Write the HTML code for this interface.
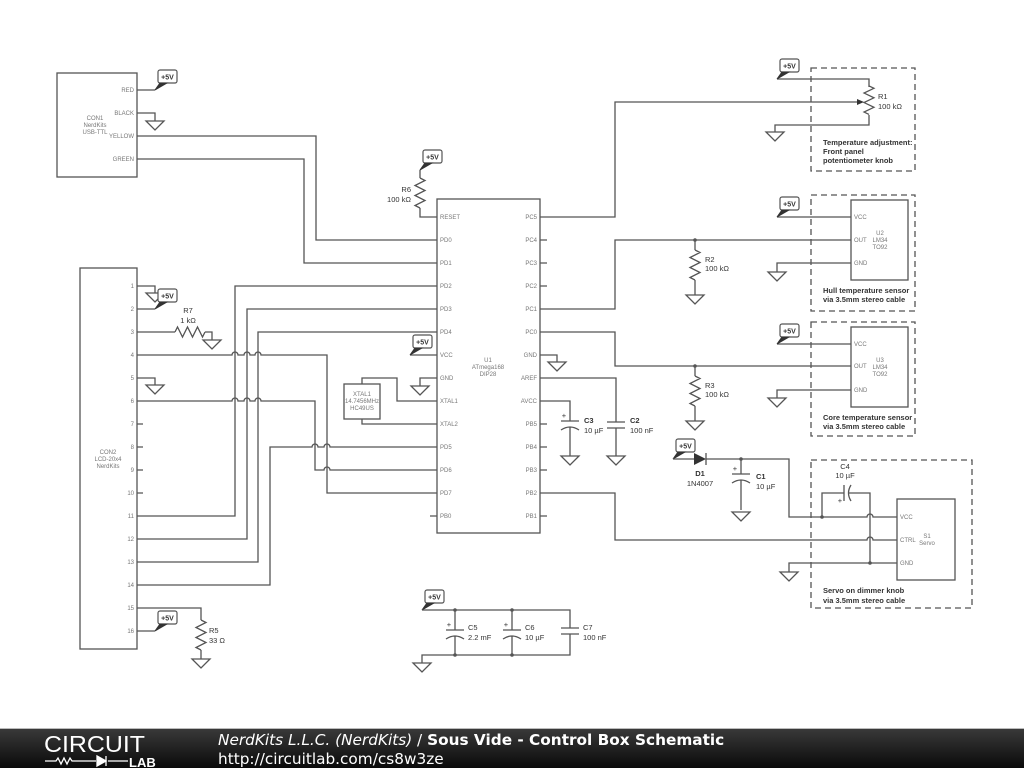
<!DOCTYPE html>
<html><head><meta charset="utf-8"><style>
html,body{margin:0;padding:0;background:#fff;width:1024px;height:768px;overflow:hidden}
svg{display:block}
.w{fill:none;stroke:#555;stroke-width:1.3}
.b{fill:#fff;stroke:#555;stroke-width:1.3}
.d{fill:none;stroke:#555;stroke-width:1.3;stroke-dasharray:6,4}
.p{font-family:"Liberation Sans",sans-serif;font-size:6px;fill:#777}
.l{font-family:"Liberation Sans",sans-serif;font-size:7.5px;fill:#333}
.t{font-family:"Liberation Sans",sans-serif;font-size:7.5px;fill:#333;font-weight:bold}
.f{font-family:"Liberation Sans",sans-serif;font-size:7px;fill:#333;font-weight:bold}
</style></head><body>
<svg width="1024" height="768" viewBox="0 0 1024 768" xmlns="http://www.w3.org/2000/svg">
<defs>
<path id="g" d="M-9,0 L9,0 L0,9 Z" fill="#fff" stroke="#555" stroke-width="1.3"/>
<g id="v"><rect x="3" y="-20" width="19" height="13" rx="2" fill="#fff" stroke="#555" stroke-width="1.2"/><path d="M0,0 L5,-7 L12,-7 Z" fill="#333" stroke="#333" stroke-width="1"/><text x="12.5" y="-10.5" text-anchor="middle" class="f">+5V</text></g>
<path id="zv" d="M0,0 l5,2.5 l-10,5 l10,5 l-10,5 l10,5 l-10,5 l5,2.5" fill="none" stroke="#555" stroke-width="1.3"/>
<path id="zh" d="M0,0 l2.5,-5 l5,10 l5,-10 l5,10 l5,-10 l5,10 l2.5,-5" fill="none" stroke="#555" stroke-width="1.3"/>
</defs>

<!-- CON1 -->
<rect x="57" y="73" width="80" height="104" class="b"/>
<text x="95" y="120" class="p" text-anchor="middle">CON1</text>
<text x="95" y="127" class="p" text-anchor="middle">NerdKits</text>
<text x="95" y="134" class="p" text-anchor="middle">USB-TTL</text>
<text x="134" y="92" class="p" text-anchor="end">RED</text>
<text x="134" y="115" class="p" text-anchor="end">BLACK</text>
<text x="134" y="138" class="p" text-anchor="end">YELLOW</text>
<text x="134" y="161" class="p" text-anchor="end">GREEN</text>
<path class="w" d="M137,90H155 M137,113H155V121 M137,136H316V240H437 M137,159H304V263H437"/>
<use href="#v" x="155" y="90"/>
<use href="#g" x="155" y="121"/>

<!-- CON2 -->
<rect x="80" y="268" width="57" height="381" class="b"/>
<text x="108" y="454" class="p" text-anchor="middle">CON2</text>
<text x="108" y="461" class="p" text-anchor="middle">LCD-20x4</text>
<text x="108" y="468" class="p" text-anchor="middle">NerdKits</text>
<g class="p" text-anchor="end">
<text x="134" y="288">1</text><text x="134" y="311">2</text><text x="134" y="334">3</text><text x="134" y="357">4</text>
<text x="134" y="380">5</text><text x="134" y="403">6</text><text x="134" y="426">7</text><text x="134" y="449">8</text>
<text x="134" y="472">9</text><text x="134" y="495">10</text><text x="134" y="518">11</text><text x="134" y="541">12</text>
<text x="134" y="564">13</text><text x="134" y="587">14</text><text x="134" y="610">15</text><text x="134" y="633">16</text>
</g>
<path class="w" d="M137,286H155V293 M137,309H155 M137,332H175 M205,332H212V340 M137,378H155V385 M137,424H143 M137,447H143 M137,470H143 M137,493H143"/>
<use href="#g" x="155" y="293"/>
<use href="#g" x="155" y="385"/>
<use href="#v" x="155" y="309"/>
<use href="#zh" x="175" y="332"/>
<use href="#g" x="212" y="340"/>
<text x="188" y="313" class="l" text-anchor="middle">R7</text>
<text x="188" y="323" class="l" text-anchor="middle">1 kΩ</text>
<path class="w" d="M137,355H232 a3,3 0 0 1 6,0 H244 a3,3 0 0 1 6,0 H255 a3,3 0 0 1 6,0 H327V493H437"/>
<path class="w" d="M137,401H232 a3,3 0 0 1 6,0 H244 a3,3 0 0 1 6,0 H255 a3,3 0 0 1 6,0 H315V470H324 a3,3 0 0 1 6,0 H437"/>
<path class="w" d="M137,516H235V286H437 M137,539H247V309H437 M137,562H258V332H437 M137,585H270V447H312 a3,3 0 0 1 6,0 H324 a3,3 0 0 1 6,0 H437"/>
<path class="w" d="M137,608H201V620 M201,650V659 M137,631H155"/>
<use href="#zv" x="201" y="620"/>
<use href="#g" x="201" y="659"/>
<use href="#v" x="155" y="631"/>
<text x="209" y="633" class="l">R5</text>
<text x="209" y="643" class="l">33 Ω</text>

<!-- U1 -->
<rect x="437" y="199" width="103" height="334" class="b"/>
<text x="488" y="362" class="p" text-anchor="middle">U1</text>
<text x="488" y="369" class="p" text-anchor="middle">ATmega168</text>
<text x="488" y="376" class="p" text-anchor="middle">DIP28</text>
<g class="p">
<text x="440" y="219">RESET</text><text x="440" y="242">PD0</text><text x="440" y="265">PD1</text><text x="440" y="288">PD2</text>
<text x="440" y="311">PD3</text><text x="440" y="334">PD4</text><text x="440" y="357">VCC</text><text x="440" y="380">GND</text>
<text x="440" y="403">XTAL1</text><text x="440" y="426">XTAL2</text><text x="440" y="449">PD5</text><text x="440" y="472">PD6</text>
<text x="440" y="495">PD7</text><text x="440" y="518">PB0</text>
</g>
<g class="p" text-anchor="end">
<text x="537" y="219">PC5</text><text x="537" y="242">PC4</text><text x="537" y="265">PC3</text><text x="537" y="288">PC2</text>
<text x="537" y="311">PC1</text><text x="537" y="334">PC0</text><text x="537" y="357">GND</text><text x="537" y="380">AREF</text>
<text x="537" y="403">AVCC</text><text x="537" y="426">PB5</text><text x="537" y="449">PB4</text><text x="537" y="472">PB3</text>
<text x="537" y="495">PB2</text><text x="537" y="518">PB1</text>
</g>
<path class="w" d="M430,516H437 M540,240H547 M540,263H547 M540,286H547 M540,424H547 M540,447H547 M540,470H547 M540,516H547"/>
<path class="w" d="M420,170V178 M420,208V217H437"/>
<use href="#zv" x="420" y="178"/>
<use href="#v" x="420" y="170"/>
<text x="411" y="192" class="l" text-anchor="end">R6</text>
<text x="411" y="202" class="l" text-anchor="end">100 kΩ</text>
<path class="w" d="M410,355H437 M437,378H420V386"/>
<use href="#v" x="410" y="355"/>
<use href="#g" x="420" y="386"/>
<rect x="344" y="384" width="36" height="35" class="b"/>
<text x="362" y="396" class="p" text-anchor="middle">XTAL1</text>
<text x="362" y="403" class="p" text-anchor="middle">14.7456MHz</text>
<text x="362" y="410" class="p" text-anchor="middle">HC49US</text>
<path class="w" d="M362,384V378H397V401H437 M362,419V424H437"/>

<path class="w" d="M540,355H557V362"/>
<use href="#g" x="557" y="362"/>
<path class="w" d="M540,378H616V422 M607,422H625 M607,428H625 M616,428V456"/>
<use href="#g" x="616" y="456"/>
<path class="w" d="M540,401H570V421 M561,421H579 M561,430Q570,424 579,430 M570,427V456"/>
<use href="#g" x="570" y="456"/>
<text x="564" y="418" class="l" text-anchor="middle">+</text>
<text x="584" y="423" class="t">C3</text><text x="584" y="433" class="l">10 µF</text>
<text x="630" y="423" class="t">C2</text><text x="630" y="433" class="l">100 nF</text>

<!-- R1 -->
<path class="w" d="M540,217H615V102H862 M777,79H869V87 M869,115V125H775V132"/>
<path d="M864,102 L857,99 L857,105 Z" fill="#333"/>
<use href="#zv" x="869" y="87" transform="translate(0,-1) scale(1,0.95) translate(0,4.5)"/>
<use href="#v" x="777" y="79"/>
<use href="#g" x="775" y="132"/>
<text x="878" y="99" class="l">R1</text><text x="878" y="109" class="l">100 kΩ</text>
<rect x="811" y="68" width="104" height="103" class="d"/>
<text x="823" y="145" class="t">Temperature adjustment:</text>
<text x="823" y="154" class="t">Front panel</text>
<text x="823" y="163" class="t">potentiometer knob</text>

<!-- U2 -->
<path class="w" d="M540,309H615V240H851 M695,240V250 M695,280V295 M777,217H851 M851,263H777V272"/>
<circle cx="695" cy="240" r="1.8" fill="#555"/>
<use href="#zv" x="695" y="250"/>
<use href="#g" x="695" y="295"/>
<use href="#v" x="777" y="217"/>
<use href="#g" x="777" y="272"/>
<text x="705" y="262" class="l">R2</text><text x="705" y="271" class="l">100 kΩ</text>
<rect x="851" y="200" width="57" height="80" class="b"/>
<text x="854" y="219" class="p">VCC</text><text x="854" y="242" class="p">OUT</text><text x="854" y="265" class="p">GND</text>
<text x="880" y="235" class="p" text-anchor="middle">U2</text><text x="880" y="242" class="p" text-anchor="middle">LM34</text><text x="880" y="249" class="p" text-anchor="middle">TO92</text>
<rect x="811" y="195" width="104" height="116" class="d"/>
<text x="823" y="293" class="t">Hull temperature sensor</text>
<text x="823" y="302" class="t">via 3.5mm stereo cable</text>

<!-- U3 -->
<path class="w" d="M540,332H615V366H851 M695,366V376 M695,406V421 M777,344H851 M851,390H777V398"/>
<circle cx="695" cy="366" r="1.8" fill="#555"/>
<use href="#zv" x="695" y="376"/>
<use href="#g" x="695" y="421"/>
<use href="#v" x="777" y="344"/>
<use href="#g" x="777" y="398"/>
<text x="705" y="388" class="l">R3</text><text x="705" y="397" class="l">100 kΩ</text>
<rect x="851" y="327" width="57" height="80" class="b"/>
<text x="854" y="346" class="p">VCC</text><text x="854" y="368" class="p">OUT</text><text x="854" y="392" class="p">GND</text>
<text x="880" y="362" class="p" text-anchor="middle">U3</text><text x="880" y="369" class="p" text-anchor="middle">LM34</text><text x="880" y="376" class="p" text-anchor="middle">TO92</text>
<rect x="811" y="322" width="104" height="114" class="d"/>
<text x="823" y="420" class="t">Core temperature sensor</text>
<text x="823" y="429" class="t">via 3.5mm stereo cable</text>

<!-- D1 / servo -->
<use href="#v" x="673" y="459"/>
<path class="w" d="M673,459H695 M706,459H789V517H867 a3,3 0 0 1 6,0 H897 M706,453V465 M741,459V474 M732,474H750 M732,483Q741,477 750,483 M741,480V510"/>
<path d="M694,453 L706,459 L694,465 Z" fill="#333"/>
<circle cx="741" cy="459" r="1.8" fill="#555"/>
<use href="#g" x="741" y="512"/>
<text x="735" y="471" class="l" text-anchor="middle">+</text>
<text x="700" y="476" class="t" text-anchor="middle">D1</text><text x="700" y="486" class="l" text-anchor="middle">1N4007</text>
<text x="756" y="479" class="t">C1</text><text x="756" y="489" class="l">10 µF</text>
<path class="w" d="M822,517V493H844 M844,485V501 M851,485Q846,493 851,501 M848,493H870V563 M540,493H615V540H867 a3,3 0 0 1 6,0 H897 M897,563H789V572"/>
<circle cx="822" cy="517" r="1.8" fill="#555"/>
<circle cx="870" cy="563" r="1.8" fill="#555"/>
<use href="#g" x="789" y="572"/>
<text x="840" y="503" class="l" text-anchor="middle">+</text>
<text x="845" y="469" class="l" text-anchor="middle">C4</text><text x="845" y="478" class="l" text-anchor="middle">10 µF</text>
<rect x="897" y="499" width="58" height="81" class="b"/>
<text x="900" y="519" class="p">VCC</text><text x="900" y="542" class="p">CTRL</text><text x="900" y="565" class="p">GND</text>
<text x="927" y="538" class="p" text-anchor="middle">S1</text><text x="927" y="545" class="p" text-anchor="middle">Servo</text>
<rect x="811" y="460" width="161" height="148" class="d"/>
<text x="823" y="593" class="t">Servo on dimmer knob</text>
<text x="823" y="603" class="t">via 3.5mm stereo cable</text>

<!-- C5 C6 C7 -->
<use href="#v" x="422" y="610"/>
<path class="w" d="M422,610H570V628 M455,610V630 M446,630H464 M446,639Q455,633 464,639 M455,636V655 M512,610V630 M503,630H521 M503,639Q512,633 521,639 M512,636V655 M561,628H579 M561,634H579 M570,634V655H422V663"/>
<circle cx="455" cy="610" r="1.8" fill="#555"/><circle cx="512" cy="610" r="1.8" fill="#555"/>
<circle cx="455" cy="655" r="1.8" fill="#555"/><circle cx="512" cy="655" r="1.8" fill="#555"/>
<use href="#g" x="422" y="663"/>
<text x="449" y="627" class="l" text-anchor="middle">+</text><text x="506" y="627" class="l" text-anchor="middle">+</text>
<text x="468" y="630" class="l">C5</text><text x="468" y="640" class="l">2.2 mF</text>
<text x="525" y="630" class="l">C6</text><text x="525" y="640" class="l">10 µF</text>
<text x="583" y="630" class="l">C7</text><text x="583" y="640" class="l">100 nF</text>

<!-- footer -->
<defs><linearGradient id="fg" x1="0" y1="0" x2="0" y2="1"><stop offset="0" stop-color="#3a3a3a"/><stop offset="1" stop-color="#0a0a0a"/></linearGradient></defs>
<rect x="0" y="728" width="1024" height="40" fill="url(#fg)"/>
<line x1="0" y1="728.5" x2="1024" y2="728.5" stroke="#bbb"/>
<text x="44" y="752" font-family="Liberation Sans,sans-serif" font-size="23" fill="#fff" textLength="101" lengthAdjust="spacingAndGlyphs">CIRCUIT</text>
<path d="M45,761H56 l2,-3 l3,6 l3,-6 l3,6 l3,-6 l2,3 H96 M108,761H128" fill="none" stroke="#fff" stroke-width="1.3"/>
<path d="M97,756 L106,761 L97,766 Z M106,756V766" fill="#fff" stroke="#fff" stroke-width="1.3"/>
<text x="129" y="767" font-family="Liberation Sans,sans-serif" font-size="13" font-weight="bold" fill="#fff">LAB</text>
<text x="218" y="745" font-family="DejaVu Sans,sans-serif" font-size="15.3" fill="#fff"><tspan font-style="italic">NerdKits L.L.C. (NerdKits)</tspan> / <tspan font-weight="bold">Sous Vide - Control Box Schematic</tspan></text>
<text x="218" y="764" font-family="DejaVu Sans,sans-serif" font-size="15.3" fill="#fff">http://circuitlab.com/cs8w3ze</text>
</svg>
</body></html>
